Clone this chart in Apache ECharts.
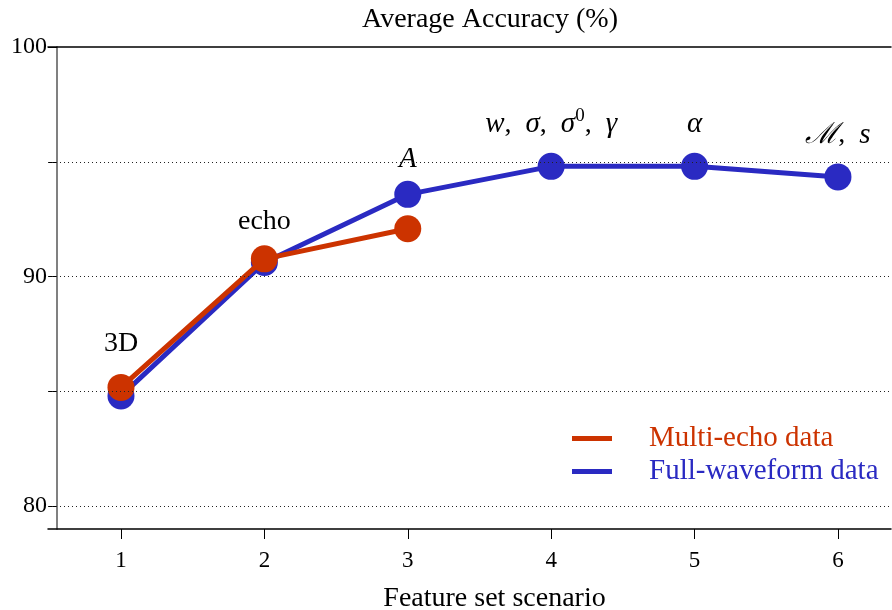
<!DOCTYPE html>
<html><head><meta charset="utf-8">
<script src="https://cdn.jsdelivr.net/npm/echarts@6/dist/echarts.min.js"></script>
<style>html,body{margin:0;padding:0;background:#fff}#c{width:892px;height:610px}</style>
</head><body><div id="c"></div>
<script>
// ---- data ----
const scenarios = [1, 2, 3, 4, 5, 6];
const fullWaveform = [84.80, 90.61, 93.58, 94.80, 94.80, 94.34];
const multiEcho = [85.17, 90.77, 92.08];
const yTickValues = [80, 85, 90, 95, 100];
const yLabelValues = [80, 90, 100];
const gridValues = [80, 85, 90, 95];
const annotations = ['3D', 'echo', '{i|A}', '{i|w},  {i|σ},  {i|σ}{sup|0},  {i|γ}', '{i|α}', '{i|ℳ},  {i|s}'];
const annotateOnRed = [true, false, false, false, false, false];
const seriesNames = ['Multi-echo data', 'Full-waveform data'];

const FONT = 'Liberation Serif';
const RED = '#cc3300', BLUE = '#2a2ac2';
const labelLift = [44, 41, 35, 42, 42, 42]; // styling: pixel lift of each annotation

const richStyle = {
  i: {fontFamily: FONT, fontStyle: 'italic', fontSize: 29, color: '#000'},
  sup: {fontFamily: FONT, fontSize: 19, color: '#000', verticalAlign: 'bottom', padding: [0, 0, 16, 0]}
};
function annLabel(i) {
  return {show: true, position: 'inside', offset: [0, -labelLift[i]], color: '#000', fontFamily: FONT, fontSize: 28, rich: richStyle, formatter: annotations[i]};
}
function pts(vals, onRed) {
  return vals.map((v, i) => {
    const o = {value: [scenarios[i], v]};
    if (annotateOnRed[i] === onRed) o.label = annLabel(i);
    return o;
  });
}

const chart = echarts.init(document.getElementById('c'));
chart.setOption({
  animation: false,
  backgroundColor: '#fff',
  title: {
    text: 'Average Accuracy (%)', left: 490, textAlign: 'center', top: 6, padding: 0,
    textStyle: {fontFamily: FONT, fontSize: 28, fontWeight: 'normal', color: '#000'}
  },
  grid: {left: 48, right: 1, top: 47, bottom: 81, containLabel: false, outerBoundsMode: 'none'},
  legend: {
    orient: 'vertical', left: 572, top: 424, itemGap: 4, padding: 0,
    icon: 'rect', itemWidth: 40, itemHeight: 5,
    data: [
      {name: seriesNames[0], textStyle: {color: RED}},
      {name: seriesNames[1], textStyle: {color: BLUE}}
    ],
    textStyle: {fontFamily: FONT, fontSize: 29, padding: [0, 0, 0, 32]}
  },
  xAxis: [{
    type: 'value', min: 0.491, max: 6.37, position: 'bottom',
    axisLine: {show: true, lineStyle: {color: '#000', width: 1.5}},
    axisTick: {show: true, customValues: scenarios, length: 10, lineStyle: {color: '#000', width: 1}},
    axisLabel: {customValues: scenarios, margin: 20, fontFamily: FONT, fontSize: 23, color: '#000'},
    splitLine: {show: false},
    name: 'Feature set scenario', nameLocation: 'middle', nameGap: 56,
    nameTextStyle: {fontFamily: FONT, fontSize: 28, color: '#000', padding: [0, 0, 0, 50]}
  }, {
    type: 'value', min: 0.491, max: 6.37, position: 'top',
    axisLine: {show: true, lineStyle: {color: '#000', width: 1.5}},
    axisTick: {show: false}, axisLabel: {show: false}, splitLine: {show: false}
  }],
  yAxis: {
    type: 'value', min: 79, max: 100, offset: -9,
    axisLine: {show: true, lineStyle: {color: '#808080', width: 2}},
    axisTick: {show: true, customValues: yTickValues, length: 9, lineStyle: {color: '#000', width: 1}},
    axisLabel: {customValues: yLabelValues, margin: 10, fontFamily: FONT, fontSize: 24, color: '#000'},
    splitLine: {show: false}
  },
  series: [{
    name: seriesNames[1], type: 'line', z: 2,
    data: pts(fullWaveform, false),
    symbol: 'circle', symbolSize: 27,
    itemStyle: {color: BLUE}, lineStyle: {color: BLUE, width: 5},
    markLine: {
      silent: true, symbol: 'none', label: {show: false},
      lineStyle: {color: '#222', width: 1, type: [1, 3]},
      data: gridValues.map(v => ({yAxis: v}))
    }
  }, {
    name: seriesNames[0], type: 'line', z: 3,
    data: pts(multiEcho, true),
    symbol: 'circle', symbolSize: 27,
    itemStyle: {color: RED}, lineStyle: {color: RED, width: 5}
  }]
});
</script>
</body></html>
